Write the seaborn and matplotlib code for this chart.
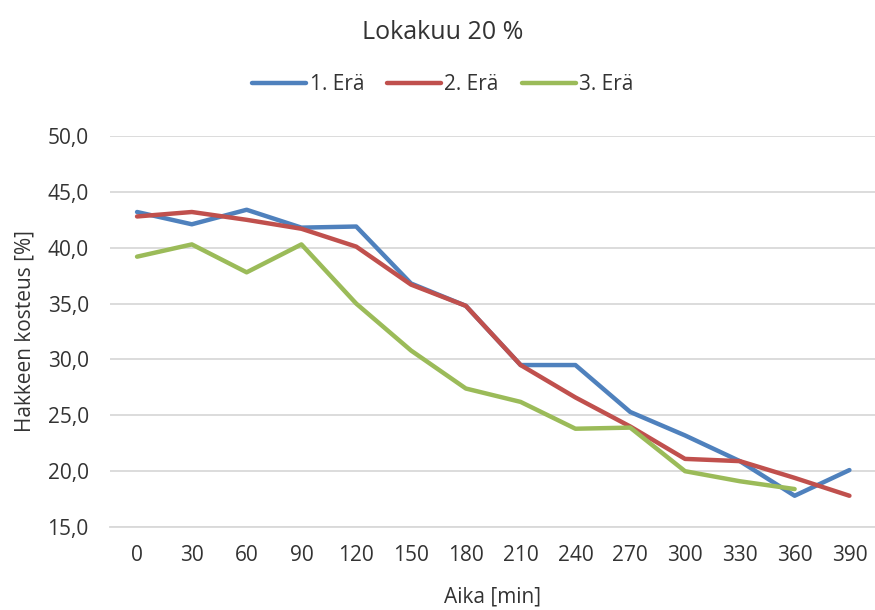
import numpy as np
import pandas as pd
import seaborn as sns
import matplotlib.pyplot as plt

aika = [0, 30, 60, 90, 120, 150, 180, 210, 240, 270, 300, 330, 360, 390]
era1 = [43.2, 42.1, 43.4, 41.8, 41.9, 36.8, 34.8, 29.5, 29.5, 25.3, 23.2, 20.9, 17.8, 20.1]
era2 = [42.8, 43.2, 42.5, 41.7, 40.1, 36.7, 34.8, 29.5, 26.6, 24.0, 21.1, 20.9, 19.4, 17.8]
era3 = [39.2, 40.3, 37.8, 40.3, 35.0, 30.8, 27.4, 26.2, 23.8, 23.9, 20.0, 19.1, 18.4, np.nan]
sarjat = ["1. Erä", "2. Erä", "3. Erä"]
ytiks = [15, 20, 25, 30, 35, 40, 45, 50]

df = pd.DataFrame({"Aika": aika, sarjat[0]: era1, sarjat[1]: era2, sarjat[2]: era3})
df = df.melt(id_vars="Aika", var_name="Erä", value_name="Kosteus").dropna()

sns.set_theme(style="white")
plt.rcParams['font.family'] = ['Open Sans', 'DejaVu Sans']
tcol = '#333333'

fig = plt.figure(figsize=(8.75, 6.1), dpi=100)
ax = fig.add_axes([0.1253, 0.136, 0.8747, 0.641])

sns.lineplot(data=df, x="Aika", y="Kosteus", hue="Erä", hue_order=sarjat,
             palette=['#4F81BD', '#C0504D', '#9BBB59'], linewidth=3.2, ax=ax)

ax.set_xlim(-15, 404)
ax.set_ylim(15, 50)
ax.set_xticks(aika)
ax.set_yticks(ytiks)
ax.set_yticklabels([f"{v:.1f}".replace('.', ',') for v in ytiks])
ax.grid(axis='y', color='#D9D9D9', linewidth=1.3)
ax.set_axisbelow(True)
for s in ['top', 'right', 'left']:
    ax.spines[s].set_visible(False)
ax.spines['bottom'].set_color('#D9D9D9')
ax.spines['bottom'].set_linewidth(1.3)
ax.tick_params(axis='both', length=0, labelsize=15, colors=tcol)
ax.tick_params(axis='y', pad=15)
ax.tick_params(axis='x', pad=13)

ax.set_xlabel("Aika [min]", fontsize=15, color=tcol, labelpad=15)
ax.set_ylabel("Hakkeen kosteus [%]", fontsize=15, color=tcol, labelpad=9)

fig.suptitle("Lokakuu 20 %", x=0.506, y=0.968, fontsize=18, color=tcol)

handles, labels = ax.get_legend_handles_labels()
ax.legend(handles, labels, loc='center', bbox_to_anchor=(0.506, 0.861),
          bbox_transform=fig.transFigure, ncol=3, frameon=False,
          fontsize=15, handlelength=2.6, handletextpad=0.15, columnspacing=1.1,
          labelcolor=tcol)

fig.savefig("out.png", dpi=100)
